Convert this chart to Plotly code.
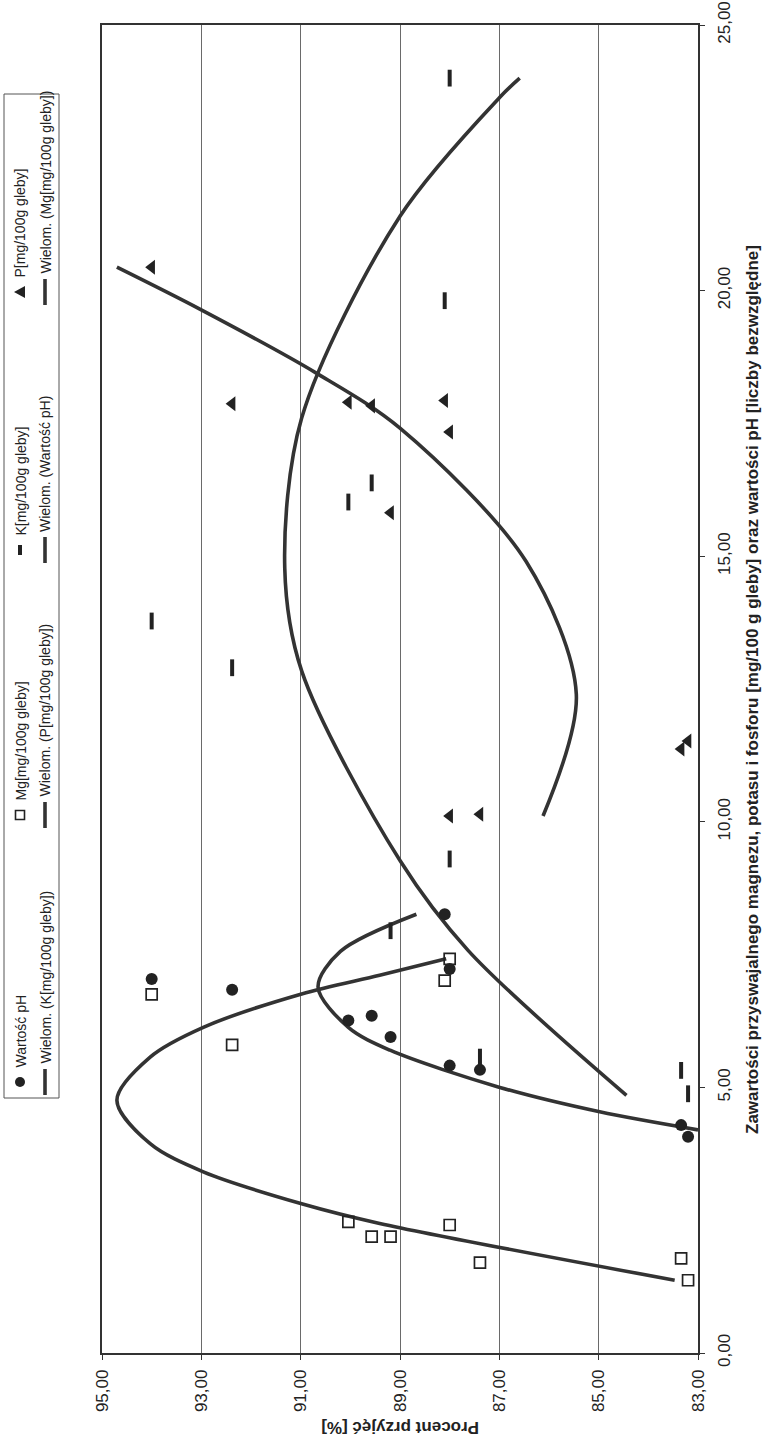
import plotly.graph_objects as go

# ---- data (original chart: x = content value, y = percent) ----
procent = [94.0, 92.38, 90.04, 89.57, 89.19, 88.1, 88.0, 88.0, 87.39, 83.34, 83.2]
ph_vals = [7.04, 6.84, 6.26, 6.35, 5.95, 8.26, 7.23, 5.41, 5.33, 4.29, 4.07]
mg_vals = [6.75, 5.80, 2.47, 2.19, 2.19, 7.01, 7.42, 2.41, 1.70, 1.78, 1.37]
k_vals = [13.78, 12.9, 16.02, 16.38, 7.95, 19.81, 24.0, 9.3, 5.57, 5.32, 4.88]
p_vals = [20.44, 17.87, 17.9, 17.83, 15.82, 17.93, 17.34, 10.11, 10.14, 11.37, 11.52]

# polynomial trend curves
k_fit_val = [4.85, 7.58, 9.27, 12.84, 14.77, 17.6, 21.4, 23.64, 24.0]
k_fit_pct = [84.44, 87.63, 89.0, 90.98, 91.32, 90.98, 89.0, 86.99, 86.59]
p_fit_val = [10.11, 12.4, 14.9, 17.41, 18.46, 19.65, 20.44]
p_fit_pct = [86.12, 85.45, 86.46, 89.0, 90.71, 93.03, 94.7]
ph_fit_val = [4.2, 4.54, 5.0, 5.7, 6.13, 6.89, 7.56, 8.26]
ph_fit_pct = [83.0, 84.98, 86.99, 89.2, 90.04, 90.65, 90.2, 88.67]
mg_fit_val = [1.37, 2.44, 2.81, 3.41, 3.94, 4.76, 5.57, 6.13, 6.76, 7.11, 7.42]
mg_fit_pct = [83.47, 89.41, 90.98, 92.96, 94.03, 94.7, 94.03, 92.96, 90.98, 89.41, 88.07]

pct_ticks = [83, 85, 87, 89, 91, 93, 95]
val_ticks = [0, 5, 10, 15, 20, 25]

legend_markers = ["Wartość pH", "Mg[mg/100g gleby]", "K[mg/100g gleby]", "P[mg/100g gleby]"]
legend_lines = ["Wielom. (K[mg/100g gleby])", "Wielom. (P[mg/100g gleby])",
                "Wielom. (Wartość pH)", "Wielom. (Mg[mg/100g gleby])"]

DARK = "#222222"
CURVE = "#333333"
FONT = "Liberation Sans, Arial, sans-serif"

W, H = 763, 1442
L, R, T, B = 102, 65, 25, 89
PW, PH = W - L - R, H - T - B


def px(x):
    return (x - L) / PW


def py(y):
    return (H - B - y) / PH


fig = go.Figure()

line_style = dict(shape="spline", smoothing=0.9, width=3.6, color=CURVE)
for xs, ys in [(k_fit_pct, k_fit_val), (p_fit_pct, p_fit_val),
               (ph_fit_pct, ph_fit_val), (mg_fit_pct, mg_fit_val)]:
    fig.add_trace(go.Scatter(x=xs, y=ys, mode="lines", line=line_style,
                             showlegend=False, hoverinfo="skip"))

fig.add_trace(go.Scatter(x=procent, y=ph_vals, mode="markers",
                         marker=dict(symbol="circle", size=12, color=DARK)))
fig.add_trace(go.Scatter(x=procent, y=mg_vals, mode="markers",
                         marker=dict(symbol="square-open", size=11, color=DARK,
                                     line=dict(width=1.7, color=DARK))))
fig.add_trace(go.Scatter(x=procent, y=k_vals, mode="markers",
                         marker=dict(symbol="line-ns", size=12, color=DARK,
                                     line=dict(width=4, color=DARK))))
fig.add_trace(go.Scatter(x=procent, y=p_vals, mode="markers",
                         marker=dict(symbol="triangle-left", size=13, color=DARK)))

# ---- legend (rotated, drawn as shapes + annotations) ----
shapes = []
annotations = []
lx0, lx1, ly0, ly1 = 4, 59, 94, 1098
shapes.append(dict(type="rect", xref="paper", yref="paper",
                   x0=px(lx0), x1=px(lx1), y0=py(ly1), y1=py(ly0),
                   line=dict(color="#555", width=1), fillcolor="white", layer="above"))
col_centers = [1082, 815, 550, 292]
row1_x, row2_x = 20, 45
for i, c in enumerate(col_centers):
    if i == 0:
        shapes.append(dict(type="circle", xref="paper", yref="paper",
                           x0=px(row1_x - 5), x1=px(row1_x + 5), y0=py(c + 5), y1=py(c - 5),
                           fillcolor=DARK, line=dict(color=DARK, width=0)))
    elif i == 1:
        shapes.append(dict(type="rect", xref="paper", yref="paper",
                           x0=px(row1_x - 4.5), x1=px(row1_x + 4.5), y0=py(c + 4.5), y1=py(c - 4.5),
                           fillcolor="white", line=dict(color=DARK, width=1.6)))
    elif i == 2:
        shapes.append(dict(type="rect", xref="paper", yref="paper",
                           x0=px(row1_x - 2), x1=px(row1_x + 2), y0=py(c + 5), y1=py(c - 5),
                           fillcolor=DARK, line=dict(color=DARK, width=0)))
    else:
        path = "M {} {} L {} {} L {} {} Z".format(
            px(row1_x - 6), py(c), px(row1_x + 5), py(c - 6), px(row1_x + 5), py(c + 6))
        shapes.append(dict(type="path", xref="paper", yref="paper", path=path,
                           fillcolor=DARK, line=dict(color=DARK, width=0)))
    annotations.append(dict(text=legend_markers[i], xref="paper", yref="paper",
                            x=px(row1_x), y=py(c - 12), xanchor="center", yanchor="bottom",
                            textangle=-90, showarrow=False,
                            font=dict(family=FONT, size=14, color=DARK)))
    shapes.append(dict(type="line", xref="paper", yref="paper",
                       x0=px(row2_x), x1=px(row2_x), y0=py(c + 13), y1=py(c - 13),
                       line=dict(color=CURVE, width=3.6)))
    annotations.append(dict(text=legend_lines[i], xref="paper", yref="paper",
                            x=px(row2_x), y=py(c - 16), xanchor="center", yanchor="bottom",
                            textangle=-90, showarrow=False,
                            font=dict(family=FONT, size=14, color=DARK)))

# axis titles
annotations.append(dict(text="<b>Procent przyjęć [%]</b>", xref="paper", yref="paper",
                        x=px(400), y=py(1428), xanchor="center", yanchor="middle",
                        textangle=180, showarrow=False,
                        font=dict(family=FONT, size=17, color=DARK)))
annotations.append(dict(text="<b>Zawartości przyswajalnego magnezu, potasu i fosforu [mg/100 g gleby] oraz wartości pH [liczby bezwzględne]</b>",
                        xref="paper", yref="paper", x=px(752), y=py(690),
                        xanchor="center", yanchor="middle", textangle=-90, showarrow=False,
                        font=dict(family=FONT, size=17, color=DARK)))

fig.update_layout(
    width=W, height=H,
    margin=dict(l=L, r=R, t=T, b=B, autoexpand=False),
    paper_bgcolor="white", plot_bgcolor="white",
    showlegend=False,
    separators=", ",
    font=dict(family=FONT, size=13, color=DARK),
    shapes=shapes, annotations=annotations,
    xaxis=dict(range=[95, 83], tickvals=pct_ticks, tickformat=".2f", tickangle=-90,
               automargin=False, ticklabelstandoff=3,
               showgrid=True, gridcolor="#6a6a6a", gridwidth=1, zeroline=False,
               showline=True, mirror=True, linecolor="#333", linewidth=1.5,
               ticks="outside", ticklen=5, tickcolor="#333",
               tickfont=dict(family=FONT, size=17, color=DARK)),
    yaxis=dict(range=[0, 25], tickvals=val_ticks, tickformat=".2f", tickangle=-90, side="right",
               automargin=False, ticklabelstandoff=5,
               showgrid=False, zeroline=False,
               showline=True, mirror=True, linecolor="#333", linewidth=1.5,
               ticks="outside", ticklen=5, tickcolor="#333",
               tickfont=dict(family=FONT, size=17, color=DARK)),
)

fig.write_html("out.html", config={"displayModeBar": False},
               post_script="document.body.style.margin='0px';document.body.style.padding='0px';")
